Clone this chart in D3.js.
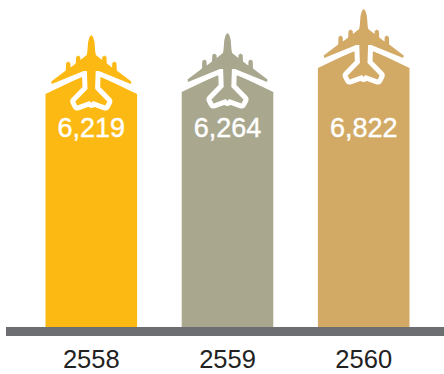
<!DOCTYPE html>
<html>
<head>
<meta charset="utf-8">
<script src="https://cdn.jsdelivr.net/npm/d3@7/dist/d3.min.js"></script>
<style>
  html, body { margin: 0; padding: 0; background: #fff; }
  svg { display: block; }
  text { font-family: "Liberation Sans", Arial, sans-serif; }
</style>
</head>
<body>
<svg id="chart" width="444" height="374"></svg>
<script>
// Passenger totals per Buddhist-era year
const years = ["2558", "2559", "2560"];
const totals = [6219, 6264, 6822];
const barColors = ["#fdb913", "#a9a88f", "#d2aa66"];
const axisColor = "#6d6e71";

const width = 444, baseline = 327;

const x = d3.scaleBand().domain(years).range([45.5, 409.5]).paddingInner(0.3275);
const y = d3.scaleLinear().domain([800, 6822]).range([baseline, 68]);

// Half of an aircraft seen from above, nose up, origin on the shoulder line of the bar
const halfPlane = [
  [0, -59], [1.8, -57], [3.2, -52], [4, -42], [4.6, -39],
  [10.8, -34], [11, -37], [13, -38.5], [15.2, -37], [15.5, -30.5],
  [20.8, -26.5], [21, -31], [23, -32.5], [25.2, -31], [25.5, -23.5],
  [40, -12.5], [39.5, -10], [7.6, -23], [4.4, -23],
  [3.8, -5], [16, 7.5], [14, 11.5], [1.6, 7], [0, 9]
];
const planeOutline = halfPlane.concat(halfPlane.slice(1, -1).reverse().map(([a, b]) => [-a, b]));
const planePath = d3.line()(planeOutline) + "Z";

const svg = d3.select("#chart");

const groups = svg.selectAll("g.bar").data(years).join("g")
  .attr("class", "bar")
  .attr("transform", d => `translate(${x(d) + x.bandwidth() / 2},0)`);

// Bar body with a roof that rises toward the fuselage
groups.append("path")
  .attr("fill", (d, i) => barColors[i])
  .attr("d", (d, i) => {
    const top = y(totals[i]), half = x.bandwidth() / 2;
    return d3.line()([[-half, baseline], [-half, top], [-6, top - 19], [6, top - 19], [half, top], [half, baseline]]) + "Z";
  });

// Aircraft with a white halo that cuts into the bar
groups.append("path")
  .attr("d", planePath)
  .attr("transform", (d, i) => `translate(0,${y(totals[i])})`)
  .attr("fill", (d, i) => barColors[i])
  .attr("stroke", "#fff")
  .attr("stroke-width", 10)
  .attr("stroke-linejoin", "round")
  .attr("paint-order", "stroke");

groups.append("text")
  .attr("y", 137)
  .attr("text-anchor", "middle")
  .attr("fill", "#fff")
  .attr("stroke", "#fff")
  .attr("stroke-width", 0.4)
  .attr("font-size", 27)
  .text((d, i) => d3.format(",")(totals[i]));

// Ground strip and year labels
svg.append("rect")
  .attr("x", 6).attr("y", baseline)
  .attr("width", width - 6).attr("height", 9)
  .attr("fill", axisColor);

groups.append("text")
  .attr("y", 368)
  .attr("text-anchor", "middle")
  .attr("fill", "#222")
  .attr("font-size", 25.5)
  .text(d => d);
</script>
</body>
</html>
